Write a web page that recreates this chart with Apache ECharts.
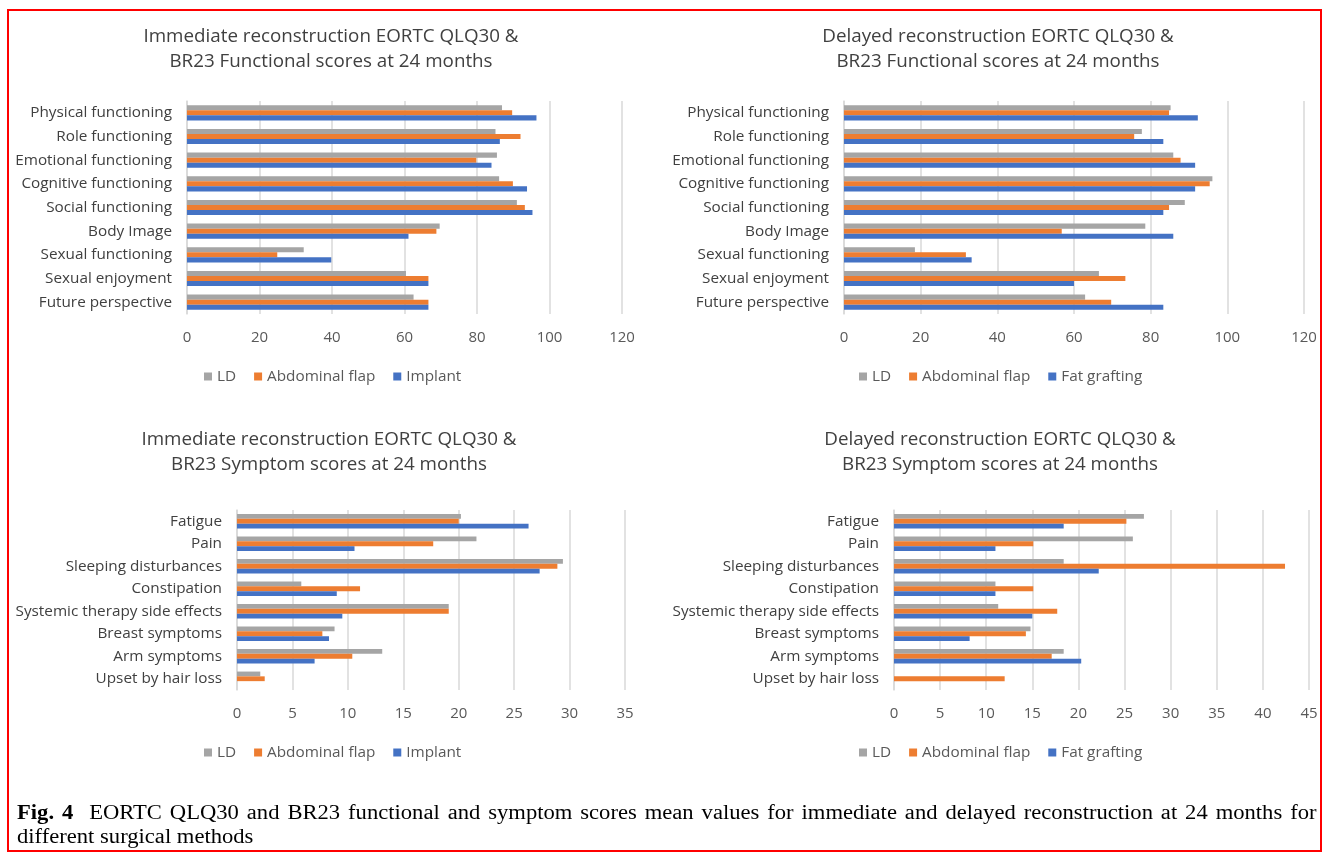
<!DOCTYPE html>
<html>
<head>
<meta charset="utf-8">
<script src="https://cdn.jsdelivr.net/npm/echarts@6/dist/echarts.min.js"></script>
<style>
  html, body { margin: 0; padding: 0; background: #fff; }
  #chart { position: absolute; left: 0; top: 0; width: 1326px; height: 853px; }
  #frame { position: absolute; left: 7px; top: 9px; width: 1315px; height: 843px; border: 2px solid #ff0000; box-sizing: border-box; pointer-events: none; }
  .cap { position: absolute; left: 17px; width: 1150px; font-family: "Liberation Serif", "Times New Roman", serif; font-size: 20px; line-height: 24px; color: #000; white-space: nowrap; transform: scaleX(1.13); transform-origin: 0 0; }
  #cap1 { top: 800px; text-align: justify; text-align-last: justify; white-space: normal; }
  #cap2 { top: 824px; }
</style>
</head>
<body>
<div id="chart"></div>
<div id="frame"></div>
<div class="cap" id="cap1"><b>Fig. 4</b>&nbsp; EORTC QLQ30 and BR23 functional and symptom scores mean values for immediate and delayed reconstruction at 24 months for</div>
<div class="cap" id="cap2">different surgical methods</div>
<script>
// ---- Data ----
const functionalCategories = ["Physical functioning", "Role functioning", "Emotional functioning", "Cognitive functioning", "Social functioning", "Body Image", "Sexual functioning", "Sexual enjoyment", "Future perspective"];
const symptomCategories = ["Fatigue", "Pain", "Sleeping disturbances", "Constipation", "Systemic therapy side effects", "Breast symptoms", "Arm symptoms", "Upset by hair loss"];

// Immediate reconstruction - functional
const immFuncLD        = [86.9, 85.1, 85.5, 86.1, 91.0, 69.7, 32.2, 60.4, 62.5];
const immFuncAbdominal = [89.7, 92.0, 79.8, 89.9, 93.2, 68.8, 24.9, 66.6, 66.6];
const immFuncImplant   = [96.4, 86.3, 84.0, 93.8, 95.3, 61.1, 39.8, 66.6, 66.6];

// Delayed reconstruction - functional
const delFuncLD        = [85.2, 77.7, 85.9, 96.1, 88.9, 78.6, 18.5, 66.5, 62.9];
const delFuncAbdominal = [84.8, 75.7, 87.8, 95.4, 84.8, 56.8, 31.8, 73.4, 69.7];
const delFuncFat       = [92.3, 83.3, 91.6, 91.6, 83.3, 85.9, 33.3, 60.0, 83.3];

// Immediate reconstruction - symptoms
const immSympLD        = [20.2, 21.6, 29.4, 5.8, 19.1, 8.8, 13.1, 2.1];
const immSympAbdominal = [20.0, 17.7, 28.9, 11.1, 19.1, 7.7, 10.4, 2.5];
const immSympImplant   = [26.3, 10.6, 27.3, 9.0, 9.5, 8.3, 7.0, 0];

// Delayed reconstruction - symptoms
const delSympLD        = [27.1, 25.9, 18.4, 11.0, 11.3, 14.8, 18.4, 0];
const delSympAbdominal = [25.2, 15.1, 42.4, 15.1, 17.7, 14.3, 17.1, 12.0];
const delSympFat       = [18.4, 11.0, 22.2, 11.0, 15.0, 8.2, 20.3, 0];

const funcTicks = [0, 20, 40, 60, 80, 100, 120];
const immSympTicks = [0, 5, 10, 15, 20, 25, 30, 35];
const delSympTicks = [0, 5, 10, 15, 20, 25, 30, 35, 40, 45];

const titles = [
  "Immediate reconstruction EORTC QLQ30 &\nBR23 Functional scores at 24 months",
  "Delayed reconstruction EORTC QLQ30 &\nBR23 Functional scores at 24 months",
  "Immediate reconstruction EORTC QLQ30 &\nBR23 Symptom scores at 24 months",
  "Delayed reconstruction EORTC QLQ30 &\nBR23 Symptom scores at 24 months"
];

// ---- Styles ----
const COLORS = { LD: "#A5A5A5", "Abdominal flap": "#ED7D31", Implant: "#4472C4", "Fat grafting": "#4472C4" };
const FONT = "Open Sans";
const TXT = "#404040";

const grids = [
  { left: 187, top: 101, width: 435, height: 213 },
  { left: 844, top: 101, width: 460, height: 213 },
  { left: 237, top: 510, width: 388, height: 180 },
  { left: 894, top: 510, width: 415, height: 180 }
];
const xMax = [funcTicks[funcTicks.length-1], funcTicks[funcTicks.length-1], immSympTicks[immSympTicks.length-1], delSympTicks[delSympTicks.length-1]];
const xInterval = [20, 20, 5, 5];
const cats = [functionalCategories, functionalCategories, symptomCategories, symptomCategories];
const seriesSets = [
  [["LD", immFuncLD], ["Abdominal flap", immFuncAbdominal], ["Implant", immFuncImplant]],
  [["LD", delFuncLD], ["Abdominal flap", delFuncAbdominal], ["Fat grafting", delFuncFat]],
  [["LD", immSympLD], ["Abdominal flap", immSympAbdominal], ["Implant", immSympImplant]],
  [["LD", delSympLD], ["Abdominal flap", delSympAbdominal], ["Fat grafting", delSympFat]]
];
const titleCenters = [[331, 24], [998, 24], [329, 427], [1000, 427]];
const legendPos = [[204, 369], [859, 369], [204, 745], [859, 745]];

const option = {
  animation: false,
  textStyle: { fontFamily: FONT },
  title: titles.map((t, i) => ({
    text: t, left: titleCenters[i][0], top: titleCenters[i][1], textAlign: "center", padding: 0,
    textStyle: { fontFamily: FONT, fontSize: 18.8, fontWeight: "normal", color: TXT, lineHeight: 25 }
  })),
  legend: seriesSets.map((s, i) => ({
    data: s.map(d => d[0]), left: legendPos[i][0], top: legendPos[i][1], padding: 0,
    icon: "rect", itemWidth: 8, itemHeight: 8, itemGap: 18,
    textStyle: { fontFamily: FONT, fontSize: 15.3, color: "#595959" }
  })),
  grid: grids.map(g => Object.assign({ containLabel: false }, g)),
  xAxis: grids.map((g, i) => ({
    gridIndex: i, type: "value", min: 0, max: xMax[i], interval: xInterval[i],
    axisLine: { show: false }, axisTick: { show: false },
    splitLine: { lineStyle: { color: "#D9D9D9", width: 1.5 } },
    axisLabel: { fontFamily: FONT, fontSize: 15, color: "#595959", margin: 16 }
  })),
  yAxis: grids.map((g, i) => ({
    gridIndex: i, type: "category", data: cats[i], inverse: true,
    axisLine: { show: true, lineStyle: { color: "#D9D9D9", width: 1.5 } }, axisTick: { show: false },
    axisLabel: { fontFamily: FONT, fontSize: 15.3, color: TXT, margin: 15 }
  })),
  series: []
};
seriesSets.forEach((set, i) => {
  set.forEach(([name, vals]) => {
    option.series.push({
      type: "bar", name: name, xAxisIndex: i, yAxisIndex: i, data: vals,
      barGap: "0%", barCategoryGap: "36%",
      itemStyle: { color: COLORS[name] }
    });
  });
});

const chart = echarts.init(document.getElementById("chart"), null, { renderer: "canvas" });
chart.setOption(option);
</script>
</body>
</html>
